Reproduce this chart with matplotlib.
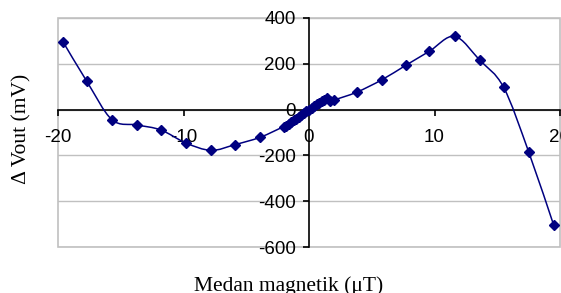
import numpy as np
import matplotlib
matplotlib.use("Agg")
import matplotlib.pyplot as plt
from matplotlib.path import Path
from matplotlib.patches import PathPatch, Rectangle

plt.rcParams["axes.unicode_minus"] = False

# Data
field_uT = [-19.6, -17.7, -15.7, -13.7, -11.8, -9.8, -7.8, -5.9, -3.9, -2.0,
            -1.8, -1.6, -1.4, -1.2, -1.0, -0.8, -0.6, -0.4, -0.2, 0.0,
            0.2, 0.4, 0.6, 0.8, 1.0, 1.2, 1.4, 1.7, 2.0,
            3.8, 5.8, 7.7, 9.6, 11.6, 13.6, 15.5, 17.5, 19.5]
dvout_mV = [296, 123, -44, -67, -89, -146, -178, -153, -121, -74,
            -71, -63, -55, -47, -39, -32, -24, -16, -8, 0,
            9, 17, 25, 31, 36, 42, 50, 37, 42,
            76, 130, 193, 255, 320, 216, 98, -184, -505]
x_ticks = [-20, -10, 0, 10, 20]
y_ticks = [-600, -400, -200, 0, 200, 400]

navy = "#000080"

fig = plt.figure(figsize=(5.61, 2.93), dpi=100)
ax = fig.add_axes([58/561, 1-247/293, (560-58)/561, (247-18)/293])
ax.set_xlim(-20, 20)
ax.set_ylim(-600, 400)

# gridlines
for yv in y_ticks:
    ax.axhline(yv, color="#c0c0c0", lw=1.0, zorder=0)
ax.add_patch(Rectangle((0, 0), 1, 1, transform=ax.transAxes, fill=False,
                       ec="#c0c0c0", lw=1.2, clip_on=False, zorder=0))

# spines through origin
for s in ["top", "right"]:
    ax.spines[s].set_visible(False)
ax.spines["left"].set_position(("data", 0))
ax.spines["bottom"].set_position(("data", 0))
for s in ["left", "bottom"]:
    ax.spines[s].set_color("black")
    ax.spines[s].set_linewidth(1.2)
ax.set_xticks(x_ticks)
ax.set_yticks(y_ticks)
ax.tick_params(direction="out", length=4, width=1.2, labelsize=13.5)
ax.tick_params(axis="x", pad=10)
ax.tick_params(axis="y", pad=5.5)
for lab in ax.get_xticklabels() + ax.get_yticklabels():
    lab.set_fontfamily("Liberation Sans")

# Excel-like smoothed line (cubic Bezier through the points)
xs = np.array(field_uT, float)
ys = np.array(dvout_mV, float)
pts = np.column_stack([xs, ys])
n = len(pts)
verts = [pts[0]]
codes = [Path.MOVETO]
for i in range(n - 1):
    p0 = pts[i - 1] if i > 0 else pts[i]
    p1 = pts[i]
    p2 = pts[i + 1]
    p3 = pts[i + 2] if i + 2 < n else pts[i + 1]
    c1 = p1 + (p2 - p0) / 6.0
    c2 = p2 - (p3 - p1) / 6.0
    verts += [c1, c2, p2]
    codes += [Path.CURVE4] * 3
ax.add_patch(PathPatch(Path(verts, codes), fill=False, ec=navy, lw=1.1, zorder=3))
ax.plot(xs, ys, linestyle="none", marker="D", ms=5.5, color=navy, zorder=4)

fig.text(22/561, 1-129/293, "Δ Vout (mV)", rotation=90, ha="center", va="center",
         fontsize=15.5, family="Liberation Serif")
fig.text(289/561, 1-291/293, "Medan magnetik (μT)", ha="center", va="baseline",
         fontsize=15.5, family="Liberation Serif")

fig.savefig("out.png", dpi=100)
